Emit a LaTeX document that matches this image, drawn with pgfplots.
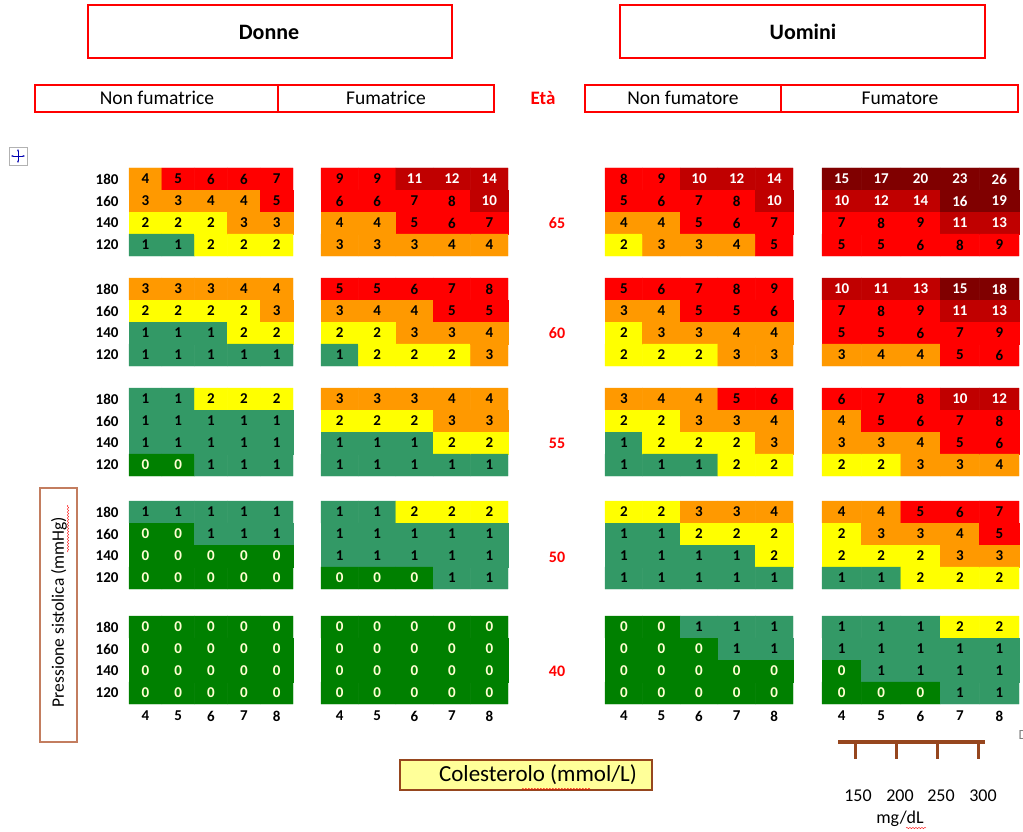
\documentclass[border=0pt]{standalone}
\usepackage{pgfplots}
\pgfplotsset{compat=1.18}
\usepackage{pgfplotstable}
\usepackage{fontspec}
\setmainfont{Carlito}
\usetikzlibrary{arrows.meta,decorations.pathmorphing}

\definecolor{hdrred}{RGB}{255,0,0}
\definecolor{boxbrown}{RGB}{195,125,95}
\definecolor{scalebrown}{RGB}{150,70,30}
\definecolor{colfill}{RGB}{255,255,153}
\definecolor{zerotxt}{RGB}{255,255,210}

% columns: cholesterol, systolic pressure, risk at age 65 60 55 50 40
\pgfplotstableread{
chol sbp a65 a60 a55 a50 a40
4 180 4 3 1 1 0
5 180 5 3 1 1 0
6 180 6 3 2 1 0
7 180 6 4 2 1 0
8 180 7 4 2 1 0
4 160 3 2 1 0 0
5 160 3 2 1 0 0
6 160 4 2 1 1 0
7 160 4 2 1 1 0
8 160 5 3 1 1 0
4 140 2 1 1 0 0
5 140 2 1 1 0 0
6 140 2 1 1 0 0
7 140 3 2 1 0 0
8 140 3 2 1 0 0
4 120 1 1 0 0 0
5 120 1 1 0 0 0
6 120 2 1 1 0 0
7 120 2 1 1 0 0
8 120 2 1 1 0 0
}\donneNF

\pgfplotstableread{
chol sbp a65 a60 a55 a50 a40
4 180 9 5 3 1 0
5 180 9 5 3 1 0
6 180 11 6 3 2 0
7 180 12 7 4 2 0
8 180 14 8 4 2 0
4 160 6 3 2 1 0
5 160 6 4 2 1 0
6 160 7 4 2 1 0
7 160 8 5 3 1 0
8 160 10 5 3 1 0
4 140 4 2 1 1 0
5 140 4 2 1 1 0
6 140 5 3 1 1 0
7 140 6 3 2 1 0
8 140 7 4 2 1 0
4 120 3 1 1 0 0
5 120 3 2 1 0 0
6 120 3 2 1 0 0
7 120 4 2 1 1 0
8 120 4 3 1 1 0
}\donneF

\pgfplotstableread{
chol sbp a65 a60 a55 a50 a40
4 180 8 5 3 2 0
5 180 9 6 4 2 0
6 180 10 7 4 3 1
7 180 12 8 5 3 1
8 180 14 9 6 4 1
4 160 5 3 2 1 0
5 160 6 4 2 1 0
6 160 7 5 3 2 0
7 160 8 5 3 2 1
8 160 10 6 4 2 1
4 140 4 2 1 1 0
5 140 4 3 2 1 0
6 140 5 3 2 1 0
7 140 6 4 2 1 0
8 140 7 4 3 2 0
4 120 2 2 1 1 0
5 120 3 2 1 1 0
6 120 3 2 1 1 0
7 120 4 3 2 1 0
8 120 5 3 2 1 0
}\uominiNF

\pgfplotstableread{
chol sbp a65 a60 a55 a50 a40
4 180 15 10 6 4 1
5 180 17 11 7 4 1
6 180 20 13 8 5 1
7 180 23 15 10 6 2
8 180 26 18 12 7 2
4 160 10 7 4 2 1
5 160 12 8 5 3 1
6 160 14 9 6 3 1
7 160 16 11 7 4 1
8 160 19 13 8 5 1
4 140 7 5 3 2 0
5 140 8 5 3 2 1
6 140 9 6 4 2 1
7 140 11 7 5 3 1
8 140 13 9 6 3 1
4 120 5 3 2 1 0
5 120 5 4 2 1 0
6 120 6 4 3 2 0
7 120 8 5 3 2 1
8 120 9 6 4 2 1
}\uominiF

\pgfplotsset{
  cellnum/.style={draw=none, mark=none, nodes near coords,
    every node near coord/.append style={anchor=center, text=#1,
      font=\fontsize{15}{17}\selectfont\bfseries}},
}

% #1 table, #2 age column, #3 left edge, #4 cell width, #5 top edge
\newcommand\block[5]{%
  \addplot[matrix plot*, mesh/cols=5,
    point meta={(\thisrow{#2}>0.5)+(\thisrow{#2}>1.5)+(\thisrow{#2}>2.5)+(\thisrow{#2}>4.5)+(\thisrow{#2}>9.5)+(\thisrow{#2}>14.5)}]
    table[x expr={#3+(\thisrow{chol}-3.5)*#4}, y expr={#5+11+(180-\thisrow{sbp})*1.1}] {#1};
  \addplot[cellnum=zerotxt, point meta=\thisrow{#2},
    restrict expr to domain={\thisrow{#2}}{-1:0.5}]
    table[x expr={#3+(\thisrow{chol}-3.5)*#4}, y expr={#5+11+(180-\thisrow{sbp})*1.1}] {#1};
  \addplot[cellnum=black, point meta=\thisrow{#2},
    restrict expr to domain={\thisrow{#2}}{0.5:9.5}]
    table[x expr={#3+(\thisrow{chol}-3.5)*#4}, y expr={#5+11+(180-\thisrow{sbp})*1.1}] {#1};
  \addplot[cellnum=white, point meta=\thisrow{#2},
    restrict expr to domain={\thisrow{#2}}{9.5:100}]
    table[x expr={#3+(\thisrow{chol}-3.5)*#4}, y expr={#5+11+(180-\thisrow{sbp})*1.1}] {#1};
}

% cholesterol labels under one group: #1 left edge, #2 cell width
\newcommand\chollabels[2]{%
  \node at (axis cs:{#1+0.5*#2},716) {4};
  \node at (axis cs:{#1+1.5*#2},716) {5};
  \node at (axis cs:{#1+2.5*#2},716) {6};
  \node at (axis cs:{#1+3.5*#2},716) {7};
  \node at (axis cs:{#1+4.5*#2},716) {8};
}

\begin{document}
\begin{tikzpicture}
\begin{axis}[
    scale only axis,
    width=1023pt, height=832pt,
    xmin=0, xmax=1023, ymin=0, ymax=832,
    y dir=reverse,
    hide axis,
    clip=false,
    /pgf/number format/assume math mode=true,
    colormap={score}{rgb255=(0,128,0) rgb255=(51,153,102) rgb255=(255,255,0)
      rgb255=(255,153,0) rgb255=(255,0,0) rgb255=(192,0,0) rgb255=(128,0,0)},
    colormap access=direct,
  ]

  % age 65
  \block{\donneNF}{a65}{129}{32.8}{168}
  \block{\donneF}{a65}{321}{37.4}{168}
  \block{\uominiNF}{a65}{605}{37.6}{168}
  \block{\uominiF}{a65}{822}{39.4}{168}
  % age 60
  \block{\donneNF}{a60}{129}{32.8}{278}
  \block{\donneF}{a60}{321}{37.4}{278}
  \block{\uominiNF}{a60}{605}{37.6}{278}
  \block{\uominiF}{a60}{822}{39.4}{278}
  % age 55
  \block{\donneNF}{a55}{129}{32.8}{388}
  \block{\donneF}{a55}{321}{37.4}{388}
  \block{\uominiNF}{a55}{605}{37.6}{388}
  \block{\uominiF}{a55}{822}{39.4}{388}
  % age 50
  \block{\donneNF}{a50}{129}{32.8}{501}
  \block{\donneF}{a50}{321}{37.4}{501}
  \block{\uominiNF}{a50}{605}{37.6}{501}
  \block{\uominiF}{a50}{822}{39.4}{501}
  % age 40
  \block{\donneNF}{a40}{129}{32.8}{616}
  \block{\donneF}{a40}{321}{37.4}{616}
  \block{\uominiNF}{a40}{605}{37.6}{616}
  \block{\uominiF}{a40}{822}{39.4}{616}

  % headers
  \draw[hdrred, line width=1.5pt] (axis cs:88,5) rectangle (axis cs:452,58);
  \draw[hdrred, line width=1.5pt] (axis cs:620,5) rectangle (axis cs:985,58);
  \node[font=\fontsize{22}{26}\selectfont\bfseries] at (axis cs:269,32) {Donne};
  \node[font=\fontsize{22}{26}\selectfont\bfseries] at (axis cs:803,32) {Uomini};

  \draw[hdrred, line width=1.2pt] (axis cs:35,85) rectangle (axis cs:494,112);
  \draw[hdrred, line width=1.2pt] (axis cs:278,85) -- (axis cs:278,112);
  \draw[hdrred, line width=1.2pt] (axis cs:585,85) rectangle (axis cs:1018,112);
  \draw[hdrred, line width=1.2pt] (axis cs:781,85) -- (axis cs:781,112);
  \begin{scope}[every node/.style={font=\fontsize{19.5}{22}\selectfont}]
    \node at (axis cs:157,98) {Non fumatrice};
    \node at (axis cs:386,98) {Fumatrice};
    \node at (axis cs:683,98) {Non fumatore};
    \node at (axis cs:900,98) {Fumatore};
  \end{scope}
  \node[text=hdrred, font=\fontsize{19}{22}\selectfont\bfseries] at (axis cs:543,98) {Età};

  % move handle
  \draw[gray!60, fill=white] (axis cs:9,147) rectangle (axis cs:27,165);
  \draw[blue!70!black, {Stealth[length=2.5pt]}-{Stealth[length=2.5pt]}] (axis cs:11,156) -- (axis cs:25,156);
  \draw[blue!70!black, {Stealth[length=2.5pt]}-{Stealth[length=2.5pt]}] (axis cs:18,149) -- (axis cs:18,163);

  % systolic pressure labels
  \pgfplotsinvokeforeach{168,278,388,501,616}{
    \node[anchor=east, font=\fontsize{15}{17}\selectfont\bfseries] at (axis cs:122,#1+11) {180};
    \node[anchor=east, font=\fontsize{15}{17}\selectfont\bfseries] at (axis cs:122,#1+33) {160};
    \node[anchor=east, font=\fontsize{15}{17}\selectfont\bfseries] at (axis cs:122,#1+55) {140};
    \node[anchor=east, font=\fontsize{15}{17}\selectfont\bfseries] at (axis cs:122,#1+77) {120};
  }

  % age labels
  \begin{scope}[every node/.style={text=hdrred, font=\fontsize{16}{18}\selectfont\bfseries}]
    \node at (axis cs:557,223) {65};
    \node at (axis cs:557,333) {60};
    \node at (axis cs:557,443) {55};
    \node at (axis cs:557,557) {50};
    \node at (axis cs:557,671) {40};
  \end{scope}

  % cholesterol labels
  \begin{scope}[every node/.style={font=\fontsize{15}{17}\selectfont\bfseries}]
    \chollabels{129}{32.8}
    \chollabels{321}{37.4}
    \chollabels{605}{37.6}
    \chollabels{822}{39.4}
  \end{scope}

  % axis titles
  \draw[boxbrown, line width=2pt, fill=white] (axis cs:40,488) rectangle (axis cs:77,742);
  \node[rotate=90, font=\fontsize{17.5}{20}\selectfont] at (axis cs:59,612) {Pressione sistolica (mmHg)};
  \draw[red, decorate, decoration={snake, amplitude=0.7pt, segment length=3pt}] (axis cs:68,552) -- (axis cs:68,505);

  \draw[scalebrown, line width=1.5pt, fill=colfill] (axis cs:400,760) rectangle (axis cs:652,790);
  \node[font=\fontsize{23}{27}\selectfont] at (axis cs:538,775) {Colesterolo (mmol/L)};
  \draw[red, decorate, decoration={snake, amplitude=0.7pt, segment length=3pt}] (axis cs:522,789) -- (axis cs:590,789);

  % mg/dL scale
  \addplot[scalebrown, line width=4pt] coordinates {(838,742) (985,742)};
  \addplot[scalebrown, line width=3pt] coordinates {(855,742) (855,759)};
  \addplot[scalebrown, line width=3pt] coordinates {(896,742) (896,759)};
  \addplot[scalebrown, line width=3pt] coordinates {(937,742) (937,759)};
  \addplot[scalebrown, line width=3pt] coordinates {(978,742) (978,759)};
  \begin{scope}[every node/.style={font=\fontsize{18}{21}\selectfont}]
    \node at (axis cs:858,796) {150};
    \node at (axis cs:900,796) {200};
    \node at (axis cs:941,796) {250};
    \node at (axis cs:983,796) {300};
    \node at (axis cs:900,819) {mg/dL};
  \end{scope}
  \draw[red, decorate, decoration={snake, amplitude=0.6pt, segment length=3pt}] (axis cs:906,828) -- (axis cs:926,828);
  \node[anchor=west, text=gray, font=\fontsize{14}{16}\selectfont] at (axis cs:1015,735) {D};
\end{axis}
\pgfresetboundingbox
\useasboundingbox (0,0) rectangle (1023pt,832pt);
\end{tikzpicture}
\end{document}
